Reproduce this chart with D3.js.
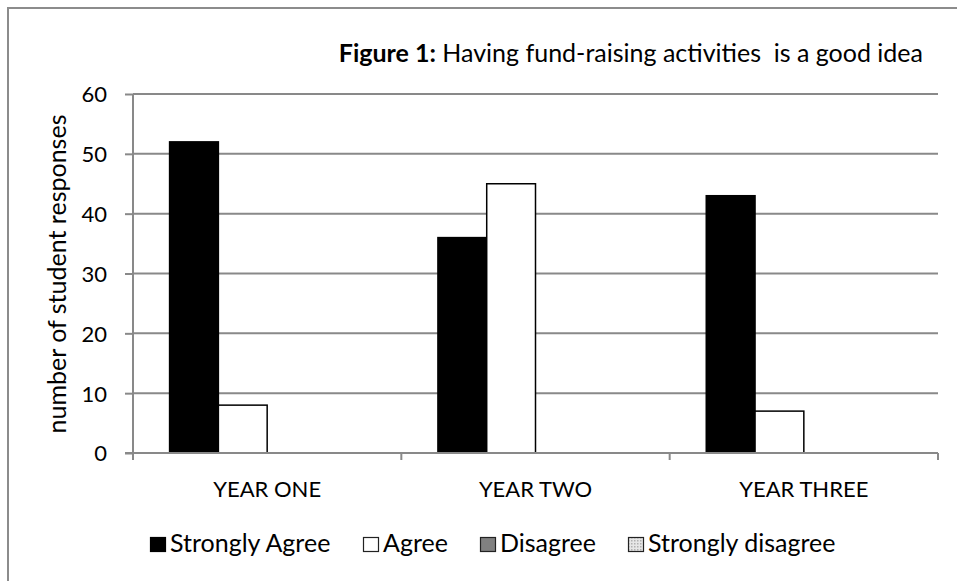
<!DOCTYPE html>
<html>
<head>
<meta charset="utf-8">
<script src="https://cdn.jsdelivr.net/npm/d3@7"></script>
<style>
  body { margin: 0; background: #fff; }
  svg text { font-family: Lato, "Open Sans", sans-serif; fill: #000; }
</style>
</head>
<body>
<div id="chart"></div>
<script>
//Datos
const categories = ['YEAR ONE', 'YEAR TWO', 'YEAR THREE'];
const seriesNames = ['Strongly Agree', 'Agree', 'Disagree', 'Strongly disagree'];
const stronglyAgree = [52, 36, 43];
const agree = [8, 45, 7];
const disagree = [0, 0, 0];
const stronglyDisagree = [0, 0, 0];
const yTicks = [0, 10, 20, 30, 40, 50, 60];

const seriesValues = [stronglyAgree, agree, disagree, stronglyDisagree];

//Colores
const COLOR_SA = '#000000',
    COLOR_A = '#ffffff',
    COLOR_D = '#808080',
    COLOR_GRID = '#898989';

let W = 957, H = 581;
let margin = {top: 94, right: 19, bottom: 128, left: 133},
    width = W - margin.left - margin.right,
    height = H - margin.top - margin.bottom;

let root = d3.select('#chart')
    .append('svg')
        .attr('width', W)
        .attr('height', H);

//Patron punteado para "Strongly disagree"
let defs = root.append('defs');
let pat = defs.append('pattern')
    .attr('id', 'dots')
    .attr('width', 3).attr('height', 3)
    .attr('patternUnits', 'userSpaceOnUse');
pat.append('rect').attr('width', 3).attr('height', 3).attr('fill', '#e6e6e6');
pat.append('rect').attr('width', 1.5).attr('height', 1.5).attr('fill', '#b0b0b0');

//Borde exterior
root.append('rect')
    .attr('x', 8).attr('y', 8)
    .attr('width', W + 10).attr('height', H + 10)
    .attr('fill', 'none')
    .attr('stroke', '#8c8c8c')
    .attr('stroke-width', 2);

let svg = root.append('g')
    .attr('transform', 'translate(' + margin.left + ',' + margin.top + ')');

let x0 = d3.scaleBand()
    .domain(categories)
    .range([0, width]);

let x1 = d3.scaleBand()
    .domain(seriesNames)
    .range([0, x0.bandwidth()])
    .paddingInner(0)
    .paddingOuter(0.75);

let y = d3.scaleLinear()
    .domain([0, 60])
    .range([height, 0]);

let z = d3.scaleOrdinal()
    .domain(seriesNames)
    .range([COLOR_SA, COLOR_A, COLOR_D, 'url(#dots)']);

//Rejilla
svg.append('g')
    .selectAll('line')
    .data(yTicks.filter(d => d > 0))
    .enter()
    .append('line')
        .attr('x1', 0).attr('x2', width)
        .attr('y1', d => y(d)).attr('y2', d => y(d))
        .attr('stroke', COLOR_GRID)
        .attr('stroke-width', 2);

//Eje Y
let yAxis = svg.append('g')
    .call(d3.axisLeft(y).tickValues(yTicks).tickSize(8).tickPadding(18));
yAxis.select('.domain').attr('stroke', COLOR_GRID).attr('stroke-width', 2).attr('d', 'M0,' + height + 'V0');
yAxis.selectAll('.tick line').attr('stroke', COLOR_GRID).attr('stroke-width', 2);
yAxis.selectAll('.tick text').style('font-size', '22px').attr('dy', '0.36em');

//Barras
let groups = svg.append('g')
    .selectAll('g')
    .data(categories)
    .enter()
    .append('g')
        .attr('transform', d => 'translate(' + x0(d) + ',0)');

groups.selectAll('rect')
    .data((c, i) => seriesNames.map((s, j) => ({serie: s, value: seriesValues[j][i]})).filter(d => d.value > 0))
    .enter()
    .append('rect')
        .attr('x', d => x1(d.serie))
        .attr('y', d => y(d.value))
        .attr('width', x1.bandwidth())
        .attr('height', d => height - y(d.value))
        .attr('fill', d => z(d.serie))
        .attr('stroke', '#000')
        .attr('stroke-width', 1.5);

//Eje X
let xAxis = svg.append('g')
    .attr('transform', 'translate(0,' + height + ')');
xAxis.append('line')
    .attr('x1', -8).attr('x2', width)
    .attr('stroke', COLOR_GRID).attr('stroke-width', 2);
xAxis.selectAll('.cat-tick')
    .data(d3.range(categories.length + 1))
    .enter()
    .append('line')
        .attr('x1', i => i * x0.bandwidth()).attr('x2', i => i * x0.bandwidth())
        .attr('y1', 0).attr('y2', 7)
        .attr('stroke', COLOR_GRID).attr('stroke-width', 2);
xAxis.selectAll('text')
    .data(categories)
    .enter()
    .append('text')
        .attr('x', d => x0(d) + x0.bandwidth() / 2)
        .attr('y', 44)
        .attr('text-anchor', 'middle')
        .style('font-size', '22px')
        .text(d => d);

//Titulo eje Y
root.append('text')
    .attr('transform', 'translate(66,' + 274 + ') rotate(-90)')
    .attr('text-anchor', 'middle')
    .style('font-size', '25px')
    .text('number of student responses');

//Titulo
let title = root.append('text')
    .attr('x', 923)
    .attr('y', 62)
    .attr('text-anchor', 'end')
    .style('font-size', '25px')
    .attr('xml:space', 'preserve');
title.append('tspan').style('font-weight', 'bold').text('Figure 1:');
title.append('tspan').text(' Having fund-raising activities  is a good idea');

//Leyenda
let legendX = [150, 363, 480, 628];
let legend = root.append('g')
    .selectAll('g')
    .data(seriesNames)
    .enter()
    .append('g')
        .attr('transform', (d, i) => 'translate(' + legendX[i] + ',552)');
legend.append('rect')
    .attr('x', 0.5).attr('y', -14.5)
    .attr('width', 15).attr('height', 14)
    .attr('fill', d => z(d))
    .attr('stroke', (d, i) => i === 0 ? '#000' : '#222')
    .attr('stroke-width', 1.2);
legend.append('text')
    .attr('x', 20)
    .style('font-size', '25px')
    .text(d => d);
</script>
</body>
</html>
